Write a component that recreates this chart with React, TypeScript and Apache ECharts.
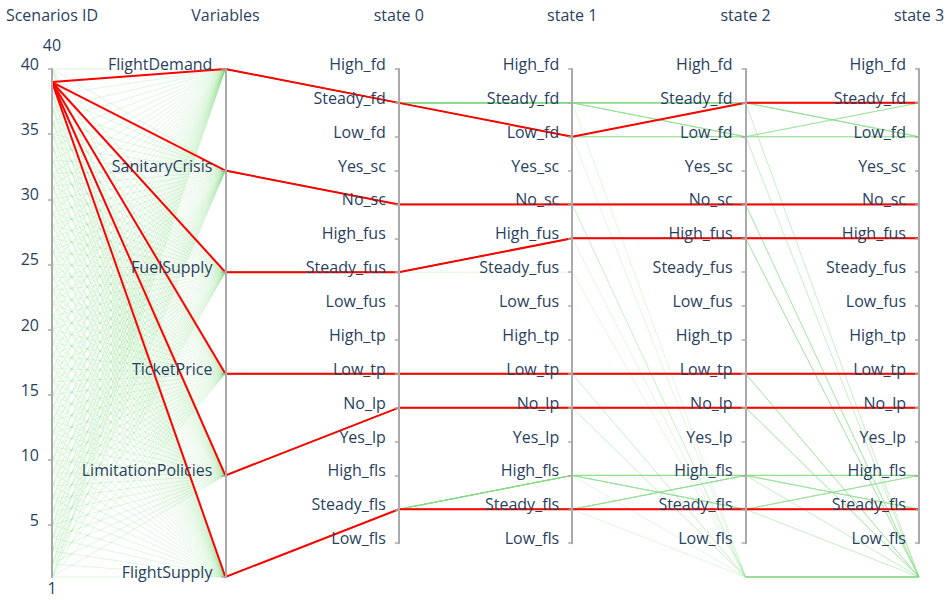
import React, { useEffect, useRef } from "react";
import * as echarts from "echarts";

// ---------- data ----------
const AXIS_NAMES = ["Scenarios ID", "Variables", "state 0", "state 1", "state 2", "state 3"];
const VARIABLES = ["FlightDemand", "SanitaryCrisis", "FuelSupply", "TicketPrice", "LimitationPolicies", "FlightSupply"];
const STATE_LABELS = [
  "High_fd", "Steady_fd", "Low_fd", "Yes_sc", "No_sc", "High_fus", "Steady_fus", "Low_fus",
  "High_tp", "Low_tp", "No_lp", "Yes_lp", "High_fls", "Steady_fls", "Low_fls",
];
const NONE = "none"; // scenario has no such state (drawn below the last label)
const ID_MIN = 1;
const ID_MAX = 40;
const ID_TICKS = [5, 10, 15, 20, 25, 30, 35, 40];
const SCENARIO_IDS = [
  1, 2, 3, 4, 5, 6, 7, 8, 9, 10, 11, 12, 13, 14, 15, 16, 17, 18, 19, 20,
  21, 22, 23, 24, 25, 26, 27, 28, 29, 30, 31, 32, 33, 34, 35, 36, 37, 38, 39, 40,
];
const HIGHLIGHT_ID = 39;

// state codes per variable
const FD_CODES: Record<string, string> = { S: "Steady_fd", L: "Low_fd" };
const FUS_CODES: Record<string, string> = { S: "Steady_fus", H: "High_fus" };
const FLS_CODES: Record<string, string> = { S: "Steady_fls", H: "High_fls" };
const SC_STATE = "No_sc";
const TP_STATE = "Low_tp";
const LP_STATE = "No_lp";

// one path per scenario (state 0 .. last state)
const FLIGHT_DEMAND_PATHS = [
  "SS", "SSSS", "SSSL", "SLSS", "SSL", "SSLS", "SLLL", "SSSS", "SLSL", "SSLL",
  "SLLS", "SLS", "SSSS", "SSSL", "SSLS", "SSLL", "SLSS", "SLSL", "SLLS", "SLLL",
  "SL", "SSSS", "SSSS", "SSSL", "SSLS", "SSLL", "SLSS", "SLSL", "SSS", "SLLL",
  "SSSS", "SLSS", "SSSS", "SSSS", "SLSS", "SLL", "SSSS", "SLSL", "SLSS", "SSSS",
];
const FUEL_SUPPLY_PATHS = [
  "SS", "SHHH", "SHHH", "SHHH", "SHH", "SHHH", "SHHH", "SHHH", "SHHH", "SHHH",
  "SHHH", "SHH", "SHHH", "SHHH", "SHHH", "SHHH", "SHHH", "SHHH", "SHHH", "SHHH",
  "SH", "SHHH", "SHHH", "SHHH", "SHHH", "SHHH", "SHHH", "SHHH", "SHH", "SHHH",
  "SHHH", "SHHH", "SHHH", "SHHH", "SHHH", "SHH", "SHHH", "SHHH", "SHHH", "SHHH",
];
const FLIGHT_SUPPLY_PATHS = [
  "SS", "SSSS", "SHHH", "SSHS", "SSH", "SHSS", "SSSH", "SHHS", "SSSS", "SHSH",
  "SSHH", "SHS", "SSSS", "SSSH", "SSHS", "SSHH", "SHSS", "SHSH", "SHHS", "SHHH",
  "SH", "SSSS", "SHHH", "SHHS", "SHSH", "SHSS", "SSHH", "SSHS", "SHH", "SSSS",
  "SSSS", "SSSS", "SSSS", "SSHH", "SSSS", "SSS", "SHHH", "SSSH", "SSSS", "SSSS",
];

// ---------- style constants ----------
const TEXT_COLOR = "#2a3f5f";
const FONT = "Open Sans";
const FONT_SIZE = 16;
const AXIS_COLOR = "#aaaaaa";
const LEFT = 52;
const RIGHT = 33;
const TOP = 69;
const BOTTOM = 23; // full-height axes
const STATE_BOTTOM = 56.7; // state axis lines stop at Low_fls

function buildRows() {
  const green: any[] = [];
  const red: any[] = [];
  SCENARIO_IDS.forEach((id, i) => {
    const n = FLIGHT_DEMAND_PATHS[i].length;
    const paths: string[][] = [
      FLIGHT_DEMAND_PATHS[i].split("").map((c) => FD_CODES[c]),
      Array.from({ length: n }, () => SC_STATE),
      FUEL_SUPPLY_PATHS[i].split("").map((c) => FUS_CODES[c]),
      Array.from({ length: n }, () => TP_STATE),
      Array.from({ length: n }, () => LP_STATE),
      FLIGHT_SUPPLY_PATHS[i].split("").map((c) => FLS_CODES[c]),
    ];
    VARIABLES.forEach((v, vi) => {
      const states = [0, 1, 2, 3].map((k) => (k < paths[vi].length ? paths[vi][k] : NONE));
      const row = [id, v, ...states];
      (id === HIGHLIGHT_ID ? red : green).push(row);
    });
  });
  return { green, red };
}

const labelStyle = { color: TEXT_COLOR, fontFamily: FONT, fontSize: FONT_SIZE };

export default function App() {
  const ref = useRef<HTMLDivElement>(null);
  useEffect(() => {
    if (!ref.current) return;
    const chart = echarts.init(ref.current, undefined, { renderer: "svg" });
    const { green, red } = buildRows();

    const visibleLabel = {
      show: true,
      ...labelStyle,
      margin: -13,
      align: "right",
      verticalAlign: "bottom",
      lineHeight: 10,
      interval: 0,
    };
    const visibleTick = { show: true, length: -4, interval: 0, lineStyle: { color: AXIS_COLOR, width: 1.5 } };
    const visibleLine = { show: true, lineStyle: { color: AXIS_COLOR, width: 2 } };
    const nameStyle = {
      nameLocation: "end",
      nameGap: 54,
      nameTextStyle: { ...labelStyle, verticalAlign: "middle", lineHeight: 16 },
    };
    const stateFull = [NONE, ...[...STATE_LABELS].reverse()];

    const axes: any[] = [
      {
        parallelIndex: 0, dim: 0, type: "value", min: ID_MIN, max: ID_MAX, name: AXIS_NAMES[0], ...nameStyle,
        axisLine: visibleLine,
        axisTick: { ...visibleTick, customValues: ID_TICKS },
        axisLabel: { ...visibleLabel, customValues: ID_TICKS },
      },
      {
        parallelIndex: 0, dim: 1, type: "category", data: [...VARIABLES].reverse(), boundaryGap: false,
        name: AXIS_NAMES[1], ...nameStyle,
        axisLine: visibleLine, axisTick: visibleTick, axisLabel: visibleLabel,
      },
    ];
    for (let d = 2; d < 6; d++) {
      axes.push({
        parallelIndex: 0, dim: d, type: "category", data: stateFull, boundaryGap: false,
        name: AXIS_NAMES[d], ...nameStyle,
        axisLine: { show: false },
        axisTick: { ...visibleTick, customValues: STATE_LABELS },
        axisLabel: { ...visibleLabel, customValues: STATE_LABELS },
      });
    }
    // second coordinate system only draws the shorter state axis lines
    for (let d = 0; d < 6; d++) {
      axes.push({
        parallelIndex: 1, dim: d, type: "value", min: 0, max: 1, name: "",
        axisLine: d < 2 ? { show: false } : visibleLine,
        axisTick: { show: false },
        axisLabel: { show: false },
      });
    }

    chart.setOption({
      animation: false,
      backgroundColor: "#ffffff",
      parallel: [
        { left: LEFT, right: RIGHT, top: TOP, bottom: BOTTOM },
        { left: LEFT, right: RIGHT, top: TOP, bottom: STATE_BOTTOM },
      ],
      parallelAxis: axes,
      series: [
        {
          type: "parallel", parallelIndex: 0, data: green, silent: true, z: 1,
          lineStyle: { color: "#86dc86", width: 1, opacity: 0.26 },
          emphasis: { disabled: true },
        },
        {
          type: "parallel", parallelIndex: 0, data: red, silent: true, z: 2,
          lineStyle: { color: "#ff0000", width: 2, opacity: 1 },
          emphasis: { disabled: true },
        },
      ],
      graphic: [
        {
          type: "text", x: LEFT, y: TOP - 24.5,
          style: { text: String(ID_MAX), ...labelStyle, fill: TEXT_COLOR, align: "center", verticalAlign: "middle", lineHeight: 16 },
        },
        {
          type: "text", x: LEFT, y: 600 - BOTTOM + 11,
          style: { text: String(ID_MIN), ...labelStyle, fill: TEXT_COLOR, align: "center", verticalAlign: "middle", lineHeight: 16 },
        },
      ],
    });
    return () => chart.dispose();
  }, []);
  return <div ref={ref} style={{ position: "fixed", left: 0, top: 0, width: 952, height: 600, background: "#fff" }} />;
}
